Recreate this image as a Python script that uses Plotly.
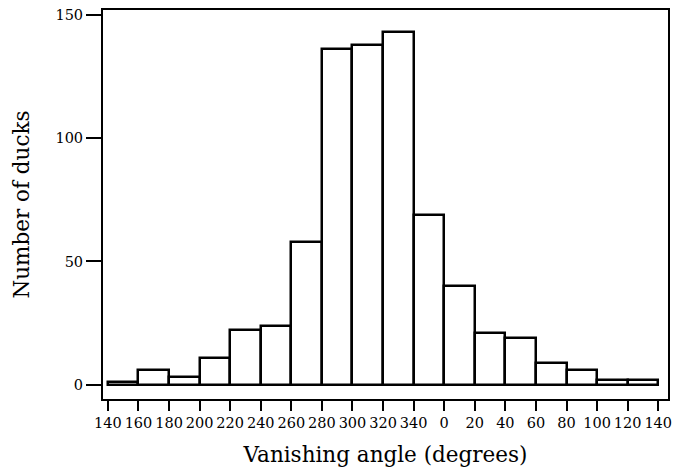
import plotly.graph_objects as go

tick_labels = ["140", "160", "180", "200", "220", "240", "260", "280", "300", "320",
               "340", "0", "20", "40", "60", "80", "100", "120", "140"]
counts = [1, 6, 3, 11, 22, 24, 58, 136, 138, 143, 69, 40, 21, 19, 9, 6, 2, 2]

bin_centers = [i + 0.5 for i in range(len(counts))]
tick_pos = list(range(len(tick_labels)))

font_family = "DejaVu Serif"

fig = go.Figure()
fig.add_trace(go.Bar(
    x=bin_centers, y=counts, width=1,
    marker=dict(color="white", line=dict(color="black", width=2.5)),
    showlegend=False,
))

fig.update_layout(
    width=677, height=468,
    margin=dict(l=103, r=5, t=10, b=69),
    paper_bgcolor="white", plot_bgcolor="white",
    font=dict(family=font_family, color="black"),
    xaxis=dict(
        range=[-0.16, 18.32], tickmode="array", tickvals=tick_pos, ticktext=tick_labels,
        showline=True, mirror=True, linecolor="black", linewidth=2,
        ticks="outside", ticklen=10, tickwidth=2, tickcolor="black",
        tickfont=dict(size=14.5, family=font_family),
        showgrid=False, zeroline=False,
        title=dict(text="Vanishing angle (degrees)", font=dict(size=21.5, family=font_family), standoff=17),
    ),
    yaxis=dict(
        range=[-5.8, 152], tickmode="array", tickvals=[0, 50, 100, 150],
        showline=True, mirror=True, linecolor="black", linewidth=2,
        ticks="outside", ticklen=15, tickwidth=2, tickcolor="black",
        tickfont=dict(size=14.5, family=font_family),
        showgrid=False, zeroline=False,
        title=dict(text="Number of ducks", font=dict(size=21.5, family=font_family), standoff=20),
    ),
    bargap=0,
)

fig.write_html("out.html")
